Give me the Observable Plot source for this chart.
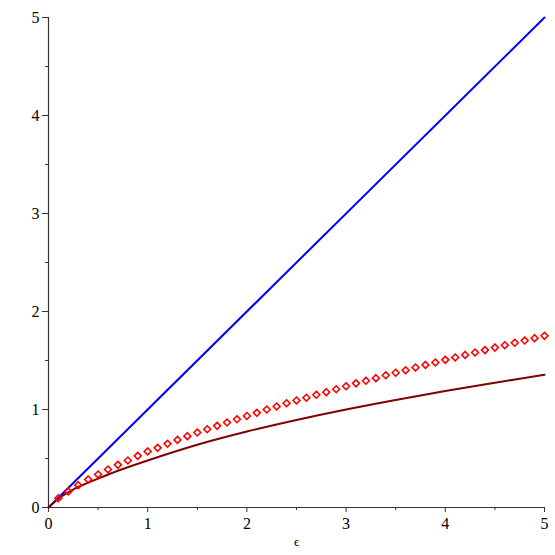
<!DOCTYPE html>
<html>
<head>
<meta charset="utf-8">
<script src="https://cdn.jsdelivr.net/npm/d3@7"></script>
<script src="https://cdn.jsdelivr.net/npm/@observablehq/plot@0.6"></script>
<style>
  html, body { margin: 0; padding: 0; background: #fff; }
  #chart svg { display: block; }
  #chart svg, #chart svg text { font-family: "Liberation Serif", "Times New Roman", serif !important; }
</style>
</head>
<body>
<div id="chart"></div>
<script>
// Blue straight line endpoints
const lineX = [0, 5];
const lineY = [0, 5];

// Red open diamonds
const diamondX = [0.1,0.2,0.3,0.4,0.5,0.6,0.7,0.8,0.9,1.0,
  1.1,1.2,1.3,1.4,1.5,1.6,1.7,1.8,1.9,2.0,
  2.1,2.2,2.3,2.4,2.5,2.6,2.7,2.8,2.9,3.0,
  3.1,3.2,3.3,3.4,3.5,3.6,3.7,3.8,3.9,4.0,
  4.1,4.2,4.3,4.4,4.5,4.6,4.7,4.8,4.9,5.0];
const diamondY = [0.095,0.163,0.228,0.286,0.337,0.388,0.435,0.480,0.527,0.572,
  0.609,0.650,0.690,0.728,0.765,0.799,0.833,0.867,0.900,0.934,
  0.966,1.000,1.031,1.064,1.092,1.120,1.150,1.177,1.207,1.237,
  1.267,1.293,1.320,1.349,1.375,1.401,1.429,1.455,1.480,1.507,
  1.531,1.557,1.582,1.606,1.632,1.656,1.681,1.704,1.728,1.752];

// Dark red curve
const curveX = [0, 0.1, 0.2, 0.3, 0.5, 0.7, 1.0, 1.5, 2.0, 2.5, 3.0, 3.5, 4.0, 4.5, 5.0];
const curveY = [0, 0.09, 0.155, 0.21, 0.295, 0.375, 0.48, 0.64, 0.775, 0.893, 1.0, 1.097, 1.188, 1.273, 1.354];

// Ticks
const majorTicks = [0, 1, 2, 3, 4, 5];
const minorTicks = [0.5, 1.5, 2.5, 3.5, 4.5];
const xLabel = "ϵ";

const blue = lineX.map((x, i) => ({x, y: lineY[i]}));
const diamonds = diamondX.map((x, i) => ({x, y: diamondY[i]}));
const curve = curveX.map((x, i) => ({x, y: curveY[i]}));

const axisColor = "#333";
const serif = "'Liberation Serif', 'Times New Roman', serif";

const chart = Plot.plot({
  width: 555,
  height: 555,
  marginLeft: 48,
  marginRight: 11,
  marginTop: 17,
  marginBottom: 48,
  style: {fontFamily: serif, fontSize: "16px", background: "#fff"},
  x: {domain: [0, 5]},
  y: {domain: [0, 5]},
  marks: [
    Plot.axisX(majorTicks, {tickSize: 5, tickPadding: 5, stroke: axisColor, fill: "#000", label: null, fontSize: 16, fontFamily: serif, tickFormat: d => String(d)}),
    Plot.axisX(minorTicks, {tickSize: 3, tickFormat: () => "", stroke: axisColor, label: null}),
    Plot.axisY(majorTicks, {tickSize: 6, tickPadding: 3, stroke: axisColor, fill: "#000", label: null, fontSize: 16, fontFamily: serif, tickFormat: d => String(d)}),
    Plot.axisY(minorTicks, {tickSize: 3, tickFormat: () => "", stroke: axisColor, label: null}),
    Plot.ruleY([0], {stroke: axisColor, strokeWidth: 1.2}),
    Plot.ruleX([0], {stroke: axisColor, strokeWidth: 1.2}),
    Plot.line(blue, {x: "x", y: "y", stroke: "#0000ff", strokeWidth: 2}),
    Plot.line(curve, {x: "x", y: "y", stroke: "#800000", strokeWidth: 2, curve: "catmull-rom"}),
    Plot.dot(diamonds, {x: "x", y: "y", symbol: "diamond2", r: 3.1, stroke: "#ff0000", strokeWidth: 1.6, fill: "none"}),
    Plot.text([xLabel], {frameAnchor: "bottom", dy: 38, text: d => d, fontSize: 13, fill: "#000", fontFamily: serif})
  ]
});

document.getElementById("chart").appendChild(chart);
</script>
</body>
</html>
